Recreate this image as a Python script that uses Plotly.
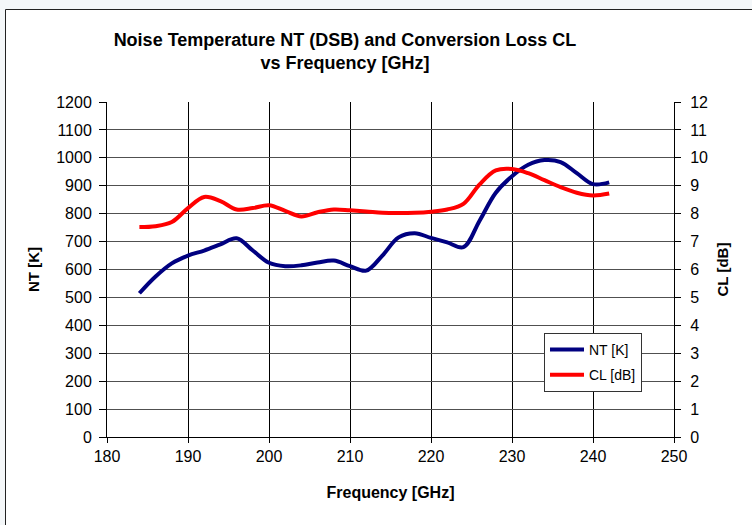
import plotly.graph_objects as go

freq = [184, 186, 188, 190, 192, 194, 196, 198, 200, 202, 204, 206, 208, 210, 212,
        214, 216, 218, 220, 222, 224, 226, 228, 230, 232, 234, 236, 238, 240, 242]
nt_k = [515, 575, 622, 650, 668, 690, 712, 668, 624, 612, 615, 625, 632, 612, 596,
        650, 715, 730, 713, 697, 680, 775, 875, 934, 975, 992, 985, 945, 906, 912]
cl_db = [7.52, 7.55, 7.70, 8.20, 8.60, 8.45, 8.15, 8.20, 8.30, 8.10, 7.90, 8.05, 8.15, 8.12, 8.08,
         8.03, 8.02, 8.03, 8.07, 8.15, 8.35, 9.05, 9.55, 9.60, 9.45, 9.20, 8.95, 8.75, 8.65, 8.72]

x_ticks = [180, 190, 200, 210, 220, 230, 240, 250]
nt_ticks = list(range(0, 1201, 100))
cl_ticks = list(range(0, 13))

W, H = 752, 525
L, R, T, B = 107, 674, 102, 437

FONT = "Liberation Sans, Arial, sans-serif"

def px_x(p):
    return (p - L) / (R - L)

def px_y(p):
    return (B - p) / (B - T)

fig = go.Figure()
fig.add_trace(go.Scatter(x=freq, y=nt_k, name="NT [K]", mode="lines",
                         line=dict(color="#000080", width=4, shape="spline", smoothing=1.0),
                         legendgroup="a"))
fig.add_trace(go.Scatter(x=freq, y=cl_db, name="CL [dB]", mode="lines", yaxis="y2",
                         line=dict(color="#ff0000", width=4, shape="spline", smoothing=1.0),
                         legendgroup="b"))

fig.update_layout(
    width=W, height=H,
    margin=dict(l=L, r=W - R, t=T, b=H - B, pad=0),
    paper_bgcolor="#f4f7f9",
    plot_bgcolor="white",
    font=dict(family=FONT, size=16, color="black"),
    title=dict(text="<b>Noise Temperature NT (DSB) and Conversion Loss CL<br>vs Frequency [GHz]</b>",
               x=345 / W, xanchor="center", y=1 - 46 / H, yanchor="middle",
               font=dict(family=FONT, size=18, color="black")),
    xaxis=dict(range=[180, 250], tickvals=x_ticks, showgrid=True, gridcolor="black", gridwidth=1,
               showline=True, linecolor="black", linewidth=1, ticks="outside", ticklen=5,
               tickcolor="black", zeroline=False,
               title=dict(text="<b>Frequency [GHz]</b>", font=dict(size=16), standoff=22)),
    yaxis=dict(range=[0, 1200], tickvals=nt_ticks, showgrid=True, gridcolor="#505050", gridwidth=1,
               showline=True, linecolor="black", linewidth=1, ticks="outside", ticklen=7,
               tickcolor="black", zeroline=False, ticklabelstandoff=4,
               title=dict(text="<b>NT [K]</b>", font=dict(size=15), standoff=12)),
    yaxis2=dict(range=[0, 12], tickvals=cl_ticks, overlaying="y", side="right", showgrid=False,
                showline=True, linecolor="black", linewidth=1, ticks="outside", ticklen=6,
                tickcolor="black", zeroline=False, ticklabelstandoff=6,
                title=dict(text="<b>CL [dB]</b>", font=dict(size=15), standoff=10)),
    legend=dict(x=px_x(544), y=px_y(333), xanchor="left", yanchor="top",
                bgcolor="white", bordercolor="#333333", borderwidth=1,
                font=dict(family=FONT, size=14, color="black"),
                traceorder="grouped", tracegroupgap=4, itemwidth=34,
                entrywidth=100, entrywidthmode="pixels"),
    showlegend=True,
)

fig.add_shape(type="rect", xref="paper", yref="paper",
              x0=px_x(5.5), x1=px_x(780), y0=px_y(560), y1=px_y(9.5),
              fillcolor="white", line=dict(color="#222222", width=1), layer="below")

fig.write_html("out.html", config={"displayModeBar": False},
               post_script="document.body.style.margin='0';document.body.style.background='#f4f7f9';")
